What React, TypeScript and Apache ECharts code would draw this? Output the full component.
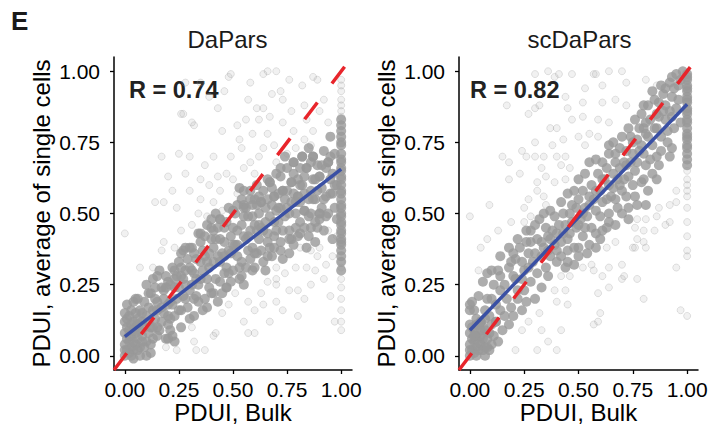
import React, { useEffect, useRef } from "react";
import * as echarts from "echarts";

// ---------- DATA ----------
const TICKS = [0, 0.25, 0.5, 0.75, 1];
const TITLES = ["DaPars", "scDaPars"];
const R_LABELS = ["R = 0.74", "R = 0.82"];
const X_NAME = "PDUI, Bulk";
const Y_NAME = "PDUI, average of single cells";

// identity line (y = x) across the panel
const IDENTITY = [[-0.05, -0.05], [1.05, 1.05]];
// regression lines
const FIT_DAPARS = [[0, 0.067], [1, 0.656]];
const FIT_SCDAPARS = [[0, 0.09], [1, 0.884]];

const DARK_DAPARS = [
  [0.00,0.00],[0.01,0.02],[0.02,0.01],[0.03,0.03],[0.00,0.04],[0.01,0.06],[0.02,0.05],[0.04,0.02],[0.05,0.04],[0.03,0.07],
  [0.06,0.06],[0.07,0.03],[0.02,0.09],[0.05,0.10],[0.08,0.07],[0.04,0.12],[0.01,0.10],[0.06,0.13],[0.09,0.10],[0.07,0.00],
  [0.10,0.05],[0.03,0.00],[0.00,0.08],[0.08,0.12],[0.11,0.08],[0.02,0.14],[0.05,0.15],[0.00,0.02],[0.04,0.05],[0.06,0.02],
  [0.12,0.10],[0.09,0.03],[0.01,0.13],[0.03,0.11],[0.07,0.09],[0.10,0.14],[0.13,0.06],[0.00,0.12],[0.05,0.08],[0.02,0.07],
  [0.04,0.09],[0.06,0.11],[0.08,0.05],[0.00,0.15],[0.01,0.18],[0.04,0.19],[0.03,0.16],[0.05,0.20],[0.06,0.20],[0.10,0.25],
  [0.15,0.28],[0.20,0.26],[0.23,0.27],[0.26,0.31],[0.27,0.37],[0.30,0.38],[0.35,0.43],[0.40,0.45],[0.44,0.48],[0.50,0.51],
  [0.55,0.52],[0.61,0.53],[0.15,0.10],[0.20,0.14],[0.26,0.16],[0.32,0.20],[0.38,0.17],[0.41,0.22],[0.47,0.24],[0.54,0.28],
  [0.60,0.31],[0.66,0.35],[0.72,0.37],[0.77,0.41],[0.81,0.43],[0.86,0.45],[0.90,0.48],[0.20,0.06],[0.23,0.05],[0.21,0.09],
  [0.11,0.17],[0.12,0.22],[0.13,0.27],[0.14,0.13],[0.15,0.19],[0.16,0.09],[0.17,0.24],[0.18,0.15],[0.19,0.28],[0.20,0.11],
  [0.12,0.04],[0.15,0.07],[0.18,0.20],[0.20,0.18],[0.14,0.24],[0.11,0.12],[0.17,0.12],[0.19,0.06],[0.16,0.30],[0.13,0.16],
  [0.21,0.25],[0.22,0.31],[0.23,0.14],[0.24,0.20],[0.25,0.33],[0.26,0.10],[0.27,0.27],[0.28,0.38],[0.29,0.17],[0.30,0.23],
  [0.22,0.07],[0.25,0.16],[0.27,0.21],[0.28,0.30],[0.24,0.28],[0.29,0.34],[0.21,0.19],[0.26,0.36],[0.30,0.13],[0.23,0.24],
  [0.31,0.38],[0.32,0.29],[0.33,0.21],[0.34,0.43],[0.35,0.33],[0.36,0.16],[0.37,0.42],[0.38,0.27],[0.39,0.36],[0.40,0.22],
  [0.32,0.14],[0.34,0.25],[0.36,0.30],[0.38,0.46],[0.33,0.34],[0.35,0.40],[0.37,0.20],[0.39,0.31],[0.31,0.25],[0.40,0.41],
  [0.36,0.37],[0.41,0.44],[0.42,0.27],[0.43,0.35],[0.44,0.48],[0.45,0.22],[0.46,0.40],[0.47,0.31],[0.48,0.52],[0.49,0.26],
  [0.50,0.45],[0.41,0.33],[0.43,0.19],[0.44,0.41],[0.46,0.29],[0.47,0.47],[0.48,0.37],[0.50,0.30],[0.42,0.50],[0.45,0.36],
  [0.49,0.42],[0.43,0.45],[0.47,0.24],[0.51,0.50],[0.52,0.35],[0.53,0.27],[0.54,0.55],[0.55,0.42],[0.56,0.31],[0.57,0.49],
  [0.58,0.58],[0.59,0.38],[0.60,0.46],[0.52,0.44],[0.53,0.59],[0.55,0.25],[0.56,0.52],[0.57,0.37],[0.58,0.44],[0.60,0.55],
  [0.51,0.39],[0.54,0.33],[0.59,0.30],[0.55,0.49],[0.60,0.36],[0.61,0.60],[0.62,0.41],[0.63,0.54],[0.64,0.33],[0.65,0.47],
  [0.66,0.62],[0.67,0.38],[0.68,0.53],[0.69,0.56],[0.70,0.44],[0.62,0.50],[0.64,0.58],[0.65,0.30],[0.66,0.43],[0.67,0.61],
  [0.68,0.35],[0.70,0.51],[0.61,0.36],[0.63,0.45],[0.69,0.47],[0.66,0.55],[0.70,0.64],[0.71,0.57],[0.72,0.40],[0.73,0.58],
  [0.74,0.49],[0.75,0.66],[0.76,0.36],[0.77,0.61],[0.78,0.68],[0.79,0.45],[0.80,0.56],[0.72,0.63],[0.73,0.34],[0.75,0.52],
  [0.76,0.44],[0.77,0.54],[0.78,0.39],[0.80,0.62],[0.71,0.47],[0.74,0.70],[0.79,0.50],[0.81,0.47],[0.82,0.70],[0.83,0.51],
  [0.84,0.66],[0.85,0.42],[0.86,0.58],[0.87,0.70],[0.88,0.55],[0.89,0.45],[0.90,0.63],[0.82,0.60],[0.84,0.38],[0.86,0.50],
  [0.87,0.62],[0.88,0.40],[0.90,0.50],[0.83,0.57],[0.85,0.73],[0.89,0.67],[0.81,0.54],[0.91,0.59],[0.92,0.44],[0.93,0.66],
  [0.94,0.68],[0.95,0.77],[0.96,0.57],[0.97,0.52],[0.95,0.62],[0.93,0.49],[0.98,0.60],[0.92,0.72],[0.96,0.41],[0.78,0.68],
  [0.82,0.70],[0.87,0.70],[0.94,0.68],[0.84,0.66],[0.90,0.63],[0.77,0.61],[0.73,0.58],[0.67,0.61],[0.69,0.56],[0.63,0.54],
  [0.58,0.55],[0.55,0.53],[0.80,0.56],[0.87,0.55],[0.95,0.57],[0.83,0.51],[0.90,0.50],
  [0.15,0.16],[0.18,0.23],[0.22,0.18],[0.25,0.24],[0.28,0.25],[0.31,0.30],[0.33,0.27],[0.35,0.27],[0.38,0.33],[0.41,0.38],
  [0.44,0.33],[0.46,0.35],[0.49,0.36],[0.52,0.39],[0.54,0.46],[0.57,0.42],[0.59,0.49],[0.62,0.46],[0.64,0.44],[0.67,0.49],
  [0.69,0.42],[0.72,0.52],[0.74,0.55],[0.76,0.50],[0.78,0.57],[0.81,0.60],[0.83,0.45],[0.85,0.55],[0.88,0.62],[0.91,0.52],
  [0.93,0.56],[0.96,0.64],[0.97,0.71],
  [0.14,0.20],[0.17,0.17],[0.19,0.24],[0.21,0.13],[0.23,0.30],[0.26,0.28],[0.28,0.20],[0.30,0.31],[0.32,0.36],[0.34,0.19],
  [0.37,0.35],[0.39,0.24],[0.40,0.48],[0.42,0.41],[0.44,0.26],[0.46,0.45],[0.48,0.29],[0.50,0.39],[0.52,0.53],[0.53,0.31],
  [0.55,0.58],[0.56,0.41],[0.58,0.34],[0.59,0.53],[0.61,0.44],[0.62,0.56],[0.63,0.37],[0.65,0.52],[0.66,0.40],[0.68,0.59],
  [0.69,0.38],[0.71,0.52],[0.72,0.66],[0.73,0.44],[0.75,0.58],[0.76,0.41],[0.78,0.64],[0.79,0.54],[0.80,0.42],[0.81,0.66],
  [0.83,0.63],[0.85,0.49],[0.86,0.68],[0.88,0.47],[0.89,0.58],[0.91,0.67],[0.92,0.55],[0.94,0.50],[0.95,0.70],[0.97,0.60],
  [0.98,0.48],[0.07,0.16],[0.09,0.19],[0.11,0.22],[0.13,0.10],[0.10,0.00],[0.04,-0.01],[0.12,0.01],[0.08,0.15],
  [1,0.83],[1,0.81],[1,0.79],[1,0.77],[1,0.75],[1,0.74],[1,0.71],[1,0.69],[1,0.68],[1,0.66],[1,0.65],[1,0.63],[1,0.62],
  [1,0.60],[1,0.58],[1,0.57],[1,0.55],[1,0.53],[1,0.52],[1,0.50],[1,0.49],[1,0.47],[1,0.46],[1,0.44],[1,0.43],[1,0.41],
  [1,0.40],[1,0.39],[1,0.37],[1,0.35],[1,0.33],[1,0.30]
];

const LIGHT_DAPARS = [
  [0.27,0.85],[0.32,0.81],[0.17,0.70],[0.25,0.71],[0.30,0.70],[0.37,0.67],[0.41,0.70],[0.43,0.87],[0.45,0.79],[0.28,0.64],
  [0.35,0.62],[0.30,0.58],[0.14,0.54],[0.18,0.54],[0.24,0.52],[0.35,0.55],[0.41,0.54],[0.47,0.64],[0.28,0.96],[0.39,0.91],
  [0.48,0.98],[0.26,0.85],[0.31,0.82],[0.49,0.99],[0.66,1.00],[0.70,1.00],[0.64,0.99],[0.58,0.96],[0.72,0.93],[0.82,0.95],
  [0.89,0.97],[0.92,0.90],[0.61,0.87],[0.64,0.87],[0.73,0.90],[0.52,0.81],[0.56,0.83],[0.67,0.84],[0.73,0.82],[0.78,0.79],
  [0.87,0.79],[0.94,0.82],[0.53,0.76],[0.66,0.78],[0.69,0.74],[0.83,0.76],[0.86,0.74],[0.49,0.70],[0.54,0.73],[0.64,0.73],
  [0.00,0.43],[0.18,0.40],[0.17,0.37],[0.23,0.38],[0.07,0.31],[0.13,0.31],[0.26,0.44],[0.31,0.46],[0.34,0.50],[0.38,0.49],
  [0.44,0.58],[0.50,0.62],[0.55,0.66],[0.58,0.68],[0.62,0.70],[0.60,0.64],[0.70,0.68],[0.75,0.71],[0.79,0.73],[0.77,0.86],
  [0.83,0.88],[0.57,0.90],[0.46,0.93],[0.35,0.96],[0.20,0.63],[0.22,0.58],[0.39,0.60],[0.45,0.51],[0.52,0.57],[0.43,0.63],
  [0.59,0.78],[0.62,0.83],[0.68,0.92],[0.76,0.97],[0.84,0.83],[0.90,0.86],[0.87,0.98],
  [1,0.97],[1,0.95],[1,0.93],[1,0.90],[1,0.88],[1,0.86],[1,0.84],[1,0.33],[1,0.31],[1,0.27],[1,0.24],[1,0.20],[1,0.16],
  [1,0.12],[1,0.09],
  [0.51,0.22],[0.57,0.19],[0.60,0.16],[0.63,0.22],[0.64,0.18],[0.70,0.19],[0.70,0.25],[0.76,0.23],[0.80,0.23],[0.70,0.27],
  [0.79,0.31],[0.86,0.25],[0.95,0.21],[0.88,0.30],[0.80,0.14],[0.97,0.12],[0.57,0.08],[0.60,0.08],[0.93,0.32],[0.81,0.38],
  [0.86,0.37],[0.90,0.38],[0.70,0.31],[0.19,0.03],[0.24,0.02],[0.32,0.05],[0.33,0.02],[0.37,0.02],[0.41,0.07],[0.42,0.08],
  [0.31,0.10],[0.45,0.15],[0.48,0.18],[0.55,0.12],[0.66,0.26],[0.74,0.29],[0.84,0.31],[0.92,0.27],[0.96,0.35],[0.98,0.42],
  [0.94,0.44],[0.89,0.35],[0.83,0.20],[0.73,0.16],[0.67,0.12]
];

const DARK_SCDAPARS = [
  [0.00,0.00],[0.01,0.02],[0.02,0.01],[0.03,0.03],[0.00,0.04],[0.01,0.06],[0.02,0.05],[0.04,0.02],[0.05,0.04],[0.03,0.07],
  [0.06,0.06],[0.07,0.03],[0.02,0.09],[0.05,0.09],[0.08,0.06],[0.04,0.11],[0.01,0.10],[0.09,0.08],[0.07,0.00],[0.10,0.04],
  [0.03,0.00],[0.00,0.08],[0.11,0.07],[0.00,0.02],[0.04,0.05],[0.06,0.02],[0.09,0.02],[0.03,0.11],[0.07,0.09],[0.05,0.07],
  [0.02,0.07],[0.08,0.03],[0.00,0.11],[0.00,0.16],[0.02,0.16],[0.01,0.19],[0.04,0.21],[0.00,0.18],[0.05,0.12],[0.12,0.12],
  [0.10,0.11],[0.13,0.05],[0.06,0.10],
  [0.08,0.29],[0.10,0.30],[0.14,0.28],[0.14,0.35],[0.18,0.38],[0.21,0.34],[0.23,0.38],[0.28,0.44],[0.28,0.40],[0.33,0.40],
  [0.32,0.48],[0.36,0.37],[0.40,0.33],[0.44,0.31],[0.31,0.29],[0.28,0.26],[0.30,0.20],[0.17,0.20],[0.14,0.16],[0.18,0.11],
  [0.12,0.12],[0.05,0.12],[0.35,0.45],[0.39,0.49],[0.44,0.46],[0.46,0.43],[0.40,0.43],[0.48,0.38],[0.37,0.35],[0.45,0.37],
  [0.40,0.37],[0.48,0.32],[0.35,0.31],[0.25,0.30],[0.22,0.23],[0.25,0.23],[0.14,0.23],[0.19,0.17],[0.12,0.18],[0.08,0.20],
  [0.45,0.57],[0.48,0.58],[0.42,0.54],[0.37,0.51],[0.34,0.50],
  [0.95,0.99],[0.98,1.00],[0.92,0.96],[0.90,0.94],[0.89,0.92],[0.93,0.91],[0.87,0.89],[0.82,0.88],[0.80,0.88],[0.86,0.85],
  [0.79,0.85],[0.76,0.83],[0.81,0.82],[0.73,0.80],[0.80,0.80],[0.86,0.80],[0.90,0.83],[0.93,0.84],[0.70,0.77],[0.77,0.76],
  [0.82,0.77],[0.66,0.75],[0.64,0.74],[0.69,0.73],[0.75,0.71],[0.80,0.71],[0.86,0.70],[0.93,0.73],[0.92,0.70],[0.64,0.71],
  [0.58,0.69],[0.55,0.68],[0.61,0.68],[0.67,0.68],[0.72,0.67],[0.81,0.67],[0.87,0.67],[0.53,0.64],[0.59,0.64],[0.66,0.64],
  [0.73,0.63],[0.80,0.62],[0.86,0.62],[0.50,0.62],[0.52,0.58],[0.58,0.58],[0.64,0.60],[0.70,0.58],[0.76,0.56],[0.82,0.58],
  [0.67,0.55],[0.61,0.54],[0.55,0.53],[0.49,0.52],[0.73,0.52],[0.64,0.50],[0.81,0.53],
  [0.50,0.46],[0.53,0.45],[0.58,0.43],[0.61,0.44],[0.64,0.47],[0.67,0.46],[0.50,0.38],[0.55,0.39],[0.50,0.35],[0.58,0.38],
  [0.73,0.48],
  [0.16,0.25],[0.20,0.28],[0.24,0.33],[0.27,0.36],[0.30,0.36],[0.33,0.35],[0.36,0.42],[0.38,0.44],[0.42,0.40],[0.43,0.50],
  [0.46,0.50],[0.47,0.47],[0.50,0.55],[0.52,0.50],[0.54,0.49],[0.56,0.60],[0.57,0.55],[0.60,0.58],[0.62,0.62],[0.63,0.55],
  [0.66,0.59],[0.68,0.62],[0.69,0.66],[0.71,0.62],[0.72,0.72],[0.74,0.68],[0.75,0.75],[0.77,0.68],[0.78,0.80],[0.79,0.74],
  [0.83,0.83],[0.84,0.74],[0.85,0.90],[0.88,0.77],[0.89,0.86],[0.91,0.79],[0.94,0.94],[0.95,0.87],[0.96,0.95],[0.97,0.82],
  [0.26,0.40],[0.20,0.36],[0.11,0.25],[0.07,0.16],[0.09,0.14],[0.16,0.14],[0.22,0.20],[0.26,0.19],
  [0.18,0.31],[0.21,0.27],[0.24,0.27],[0.27,0.31],[0.29,0.33],[0.31,0.41],[0.34,0.38],[0.37,0.41],[0.39,0.39],[0.41,0.46],
  [0.43,0.43],[0.45,0.41],[0.47,0.53],[0.49,0.45],[0.51,0.48],[0.53,0.52],[0.55,0.56],[0.56,0.45],[0.58,0.51],[0.60,0.49],
  [0.61,0.62],[0.63,0.66],[0.65,0.56],[0.67,0.71],[0.69,0.60],[0.71,0.68],[0.72,0.56],[0.74,0.77],[0.76,0.65],[0.78,0.72],
  [0.79,0.61],[0.81,0.78],[0.83,0.69],[0.84,0.93],[0.85,0.80],[0.87,0.84],[0.88,0.72],[0.90,0.88],[0.91,0.75],[0.92,0.86],
  [0.94,0.80],[0.96,0.90],[0.97,0.97],[0.93,0.98],[0.88,0.95],[0.30,0.46],[0.26,0.44],[0.22,0.41],[0.19,0.33],[0.13,0.30],
  [0.10,0.20],[0.06,0.26],[0.03,0.13],[0.07,0.13],[0.15,0.09],[0.20,0.14],[0.24,0.16],[0.33,0.24],[0.36,0.28],[0.42,0.35],
  [0.45,0.33],[0.52,0.42],[0.54,0.36],[0.60,0.41],[0.63,0.45],[0.68,0.52],[0.70,0.50],[0.75,0.60],[0.77,0.53],[0.84,0.64],
  [1,0.99],[1,0.98],[1,0.97],[1,0.95],[1,0.94],[1,0.93],[1,0.91],[1,0.90],[1,0.89],[1,0.87],[1,0.86],[1,0.85],[1,0.83],
  [1,0.82],[1,0.80],[1,0.78],[1,0.77],[1,0.76],[1,0.74],[1,0.73],[1,0.71],[1,0.69],[1,0.67]
];

const LIGHT_SCDAPARS = [
  [0.24,0.09],[0.27,0.12],[0.33,0.09],[0.36,0.05],[0.42,0.09],[0.31,0.02],[0.21,0.02],[0.40,0.02],[0.40,0.19],[0.45,0.18],
  [0.32,0.15],[0.05,0.38],[0.08,0.41],[0.13,0.44],[0.19,0.47],[0.25,0.47],[0.28,0.49],[0.04,0.30],[0.00,0.49],[0.39,0.23],
  [0.44,0.23],[0.42,0.28],[0.46,0.28],
  [0.30,0.99],[0.36,1.00],[0.39,0.98],[0.47,0.99],[0.17,0.88],[0.27,0.85],[0.32,0.88],[0.30,0.87],[0.44,0.91],[0.45,0.87],
  [0.47,0.83],[0.40,0.80],[0.37,0.80],[0.43,0.76],[0.30,0.75],[0.15,0.70],[0.18,0.68],[0.24,0.72],[0.26,0.70],[0.30,0.70],
  [0.34,0.70],[0.38,0.74],[0.40,0.70],[0.44,0.70],[0.23,0.64],[0.33,0.66],[0.35,0.63],[0.42,0.67],[0.46,0.66],[0.18,0.62],
  [0.31,0.61],[0.39,0.61],[0.44,0.62],[0.31,0.58],[0.34,0.56],[0.27,0.55],[0.09,0.53],[0.25,0.52],[0.35,0.53],[0.41,0.99],
  [0.57,0.99],
  [0.58,0.99],[0.64,1.00],[0.70,1.00],[0.72,0.96],[0.61,0.95],[0.53,0.94],[0.81,0.97],[0.86,0.95],[0.67,0.90],[0.52,0.89],
  [0.61,0.89],[0.72,0.88],[0.52,0.84],[0.59,0.83],[0.64,0.82],[0.55,0.78],[0.59,0.77],[0.50,0.77],[0.53,0.74],[0.95,0.58],
  [0.95,0.54],[0.92,0.53],[0.87,0.52],
  [0.56,0.32],[0.52,0.31],[0.57,0.30],[0.61,0.28],[0.64,0.31],[0.70,0.27],[0.71,0.28],[0.77,0.27],[0.64,0.24],[0.59,0.22],
  [0.80,0.20],[0.60,0.15],[0.57,0.11],[0.59,0.12],[0.95,0.31],[0.97,0.16],[1.00,0.14],[1,0.47],[1,0.42],[1,0.37],
  [1,0.35],[0.75,0.38],[0.76,0.38],[0.80,0.40],[0.81,0.38],[0.77,0.41],[0.77,0.48],[0.81,0.48],[0.86,0.49],[0.90,0.46],
  [0.92,0.47],[0.85,0.44],[0.67,0.40],[0.63,0.38],[0.76,0.45],[0.80,0.44],[0.70,0.32],
  [1,0.65],[1,0.62],[1,0.60],[1,0.58],[1,0.56],[1,0.52]
];

// ---------- STYLE ----------
const FONT = "'Liberation Sans', Arial, Helvetica, sans-serif";
const DARK_GRAY = "#999999";
const RED = "#e8252b";
const BLUE = "#3a50a4";

function axisCommon(name: string, nameGap: number, labelMargin: number) {
  return {
    type: "value",
    min: -0.05,
    max: 1.05,
    name,
    nameLocation: "middle",
    nameGap,
    nameMoveOverlap: false,
    nameTextStyle: { fontSize: 24, lineHeight: 22, color: "#000", fontFamily: FONT },
    axisLine: { show: true, onZero: false, lineStyle: { color: "#000", width: 1.5 } },
    axisTick: { show: true, customValues: TICKS, length: 4, lineStyle: { color: "#000", width: 1.3 } },
    axisLabel: {
      customValues: TICKS,
      formatter: (v: number) => v.toFixed(2),
      fontSize: 21,
      lineHeight: 20,
      color: "#000",
      fontFamily: FONT,
      margin: labelMargin,
    },
    splitLine: { show: false },
  };
}

export default function App() {
  const ref = useRef<HTMLDivElement>(null);
  useEffect(() => {
    if (!ref.current) return;
    const chart = echarts.init(ref.current, undefined, { renderer: "svg" });
    const lightStyle = {
      color: "rgba(150,150,150,0.16)",
      borderColor: "rgba(150,150,150,0.34)",
      borderWidth: 1,
    };
    const panels = [
      { dark: DARK_DAPARS, light: LIGHT_DAPARS, fit: FIT_DAPARS },
      { dark: DARK_SCDAPARS, light: LIGHT_SCDAPARS, fit: FIT_SCDAPARS },
    ];
    const series: any[] = [];
    panels.forEach((p, i) => {
      series.push({
        type: "scatter", xAxisIndex: i, yAxisIndex: i, data: p.light,
        symbolSize: 7, itemStyle: lightStyle, silent: true, z: 1,
      });
      series.push({
        type: "scatter", xAxisIndex: i, yAxisIndex: i, data: p.dark,
        symbolSize: 10, itemStyle: { color: DARK_GRAY }, silent: true, z: 2,
      });
      series.push({
        type: "line", xAxisIndex: i, yAxisIndex: i, data: p.fit, showSymbol: false,
        lineStyle: { color: BLUE, width: 3.5 }, silent: true, z: 3,
      });
      series.push({
        type: "line", xAxisIndex: i, yAxisIndex: i, data: IDENTITY, showSymbol: false,
        lineStyle: { color: RED, width: 3.5, type: [21, 24], cap: "butt" }, silent: true, z: 4,
      });
    });
    const option: any = {
      animation: false,
      textStyle: { fontFamily: FONT },
      grid: [
        { left: 114, top: 57, width: 238, height: 313, containLabel: false, outerBoundsMode: "none" },
        { left: 459, top: 57, width: 239, height: 313, containLabel: false, outerBoundsMode: "none" },
      ],
      xAxis: [
        { ...axisCommon(X_NAME, 31, 9), gridIndex: 0 },
        { ...axisCommon(X_NAME, 31, 9), gridIndex: 1 },
      ],
      yAxis: [
        { ...axisCommon(Y_NAME, 62, 14), gridIndex: 0 },
        { ...axisCommon(Y_NAME, 62, 14), gridIndex: 1 },
      ],
      series,
      graphic: [
        { type: "text", left: 11, top: 8, style: { text: "E", fontSize: 26, fontWeight: "bold", fill: "#1a1a1a", fontFamily: FONT } },
        { type: "text", x: 227.5, y: 39.5, style: { text: TITLES[0], fontSize: 24, fill: "#1a1a1a", fontFamily: FONT, textAlign: "center", textVerticalAlign: "middle" } },
        { type: "text", x: 579.5, y: 39.5, style: { text: TITLES[1], fontSize: 24, fill: "#1a1a1a", fontFamily: FONT, textAlign: "center", textVerticalAlign: "middle" } },
        { type: "text", x: 129, y: 89.5, style: { text: R_LABELS[0], fontSize: 23.5, fontWeight: "bold", fill: "#222", fontFamily: FONT, textAlign: "left", textVerticalAlign: "middle" } },
        { type: "text", x: 470, y: 89.5, style: { text: R_LABELS[1], fontSize: 23.5, fontWeight: "bold", fill: "#222", fontFamily: FONT, textAlign: "left", textVerticalAlign: "middle" } },
      ],
    };
    chart.setOption(option);
    return () => chart.dispose();
  }, []);
  return (
    <div
      ref={ref}
      style={{ position: "absolute", left: 0, top: 0, width: 713, height: 427, background: "#fff" }}
    />
  );
}
